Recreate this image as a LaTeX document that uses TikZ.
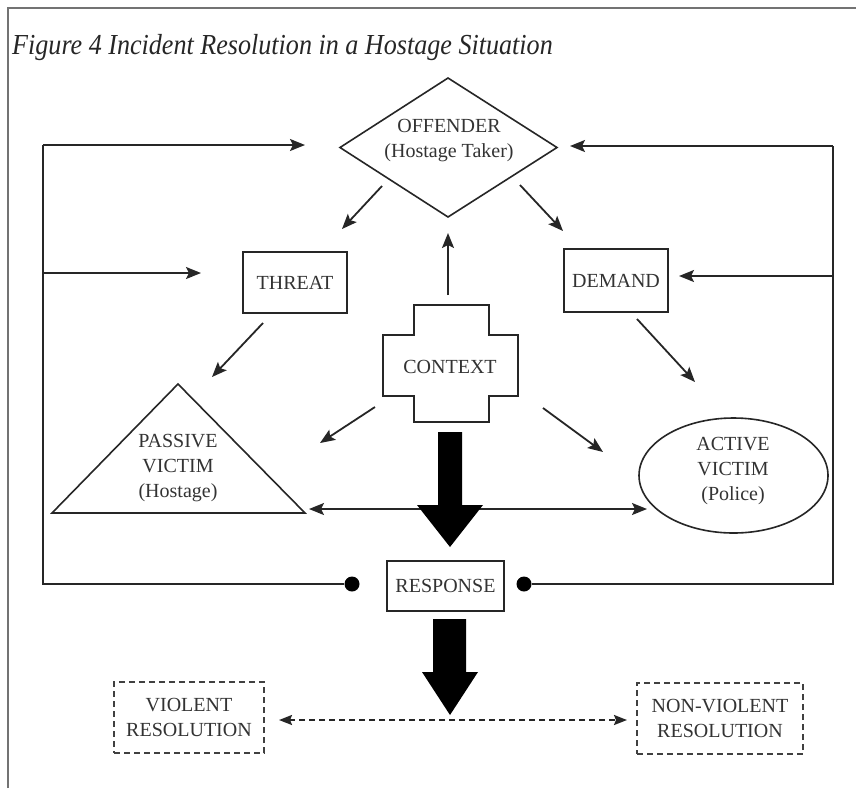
\documentclass[tikz,border=0pt]{standalone}
\usepackage{fontspec}
\setmainfont{Liberation Serif}
\newfontfamily\titlefont[FakeStretch=0.9]{Liberation Serif}
\usetikzlibrary{arrows.meta}
\begin{document}
\begin{tikzpicture}[x=1pt,y=-1pt,
  lbl/.style={font=\fontsize{20}{25}\selectfont, align=center, inner sep=0pt, text=black!80},
  shapeline/.style={line width=1.6pt, draw=black!85},
  box/.style={shapeline, rectangle, font=\fontsize{20}{25}\selectfont, align=center, inner sep=0pt, text=black!80},
  dbox/.style={box, dash pattern=on 6pt off 4pt, line width=2.2pt, draw=black!75},
  link/.style={line width=1.8pt, draw=black!85},
  tip/.tip={Stealth[length=15pt,width=12pt,inset=3pt]},
  arr/.style={link, -tip},
  darr/.style={link, tip-tip},
  dasharr/.style={link, dash pattern=on 6pt off 4pt, line width=2pt, {Stealth[length=13pt,width=10pt,inset=2pt]}-{Stealth[length=13pt,width=10pt,inset=2pt]}},
  dotnode/.style={circle, fill=black, inner sep=0pt, minimum size=15pt},
  bigarrow/.style={fill=black, draw=none},
  frameline/.style={line width=2.5pt, draw=black!55}]
\useasboundingbox[fill=white] (0,0) rectangle (856,788);
% frame
\draw[frameline] (8,788) -- (8,8) -- (856,8);
% title
\node[anchor=base west, inner sep=0pt, font=\titlefont\itshape\fontsize{29}{33}\selectfont, text=black!85] (title) at (12,54) {Figure 4 Incident Resolution in a Hostage Situation};
% offender diamond
\draw[shapeline] (448,78) -- (557,147.5) -- (448,217) -- (340,147.5) -- cycle;
\node[lbl] (off) at (449,141) {OFFENDER\\(Hostage Taker)};
% threat / demand
\node[box, minimum width=104pt, minimum height=61pt] (threat) at (295,282.5) {THREAT};
\node[box, minimum width=104pt, minimum height=63pt] (demand) at (616,280.5) {DEMAND};
% context cross
\draw[shapeline] (414,305) -- (489,305) -- (489,335) -- (518,335) -- (518,396) -- (489,396) -- (489,422) -- (414,422) -- (414,396) -- (383,396) -- (383,335) -- (414,335) -- cycle;
\node[lbl] (context) at (450,367) {CONTEXT};
% passive victim triangle
\draw[shapeline] (178,384) -- (305,513) -- (52,513) -- cycle;
\node[lbl] (passive) at (178,468) {PASSIVE\\VICTIM\\(Hostage)};
% active victim ellipse
\draw[shapeline] (733.5,475.5) ellipse [x radius=94.5, y radius=57.5];
\node[lbl] (active) at (733,470.5) {ACTIVE\\VICTIM\\(Police)};
% response
\node[box, minimum width=117pt, minimum height=50pt] (response) at (445.5,586) {RESPONSE};
% resolutions
\node[dbox, minimum width=150pt, minimum height=71pt] (violent) at (189,717.5) {VIOLENT\\RESOLUTION};
\node[dbox, minimum width=166pt, minimum height=71pt] (nonviolent) at (720,718.5) {NON-VIOLENT\\RESOLUTION};
% connector end coordinates
\coordinate (offL) at (382,186);
\coordinate (offR) at (520,185);
\coordinate (threatIn) at (342,229);
\coordinate (demandIn) at (563,231);
\coordinate (ctxTop) at (448,295);
\coordinate (offIn) at (448,233);
\coordinate (threatOut) at (263,323);
\coordinate (passiveIn) at (212,377);
\coordinate (demandOut) at (637,319);
\coordinate (activeIn) at (695,382);
\coordinate (ctxL) at (375,407);
\coordinate (ctxLtip) at (320,443);
\coordinate (ctxR) at (543,408);
\coordinate (ctxRtip) at (603,452);
\coordinate (passiveR) at (309,509);
\coordinate (activeL) at (647,509);
\coordinate (violentR) at (279,720);
\coordinate (nonviolentL) at (627,720);
% feedback loop coordinates
\coordinate (lt) at (43,145);
\coordinate (lm) at (43,273);
\coordinate (lb) at (43,584);
\coordinate (ltip1) at (305,145);
\coordinate (ltip2) at (201,273);
\coordinate (rt) at (833,146);
\coordinate (rm) at (833,276);
\coordinate (rb) at (833,584);
\coordinate (rtip1) at (570,146);
\coordinate (rtip2) at (679,276);
\node[dotnode] (dotl) at (352,584) {};
\node[dotnode] (dotr) at (524,584) {};
% arrows
\draw[arr] (offL) -- (threatIn);
\draw[arr] (offR) -- (demandIn);
\draw[arr] (ctxTop) -- (offIn);
\draw[arr] (threatOut) -- (passiveIn);
\draw[arr] (demandOut) -- (activeIn);
\draw[arr] (ctxL) -- (ctxLtip);
\draw[arr] (ctxR) -- (ctxRtip);
\draw[darr] (passiveR) -- (activeL);
\draw[dasharr] (violentR) -- (nonviolentL);
% feedback loops
\draw[link] (dotl) -- (lb) -- (lt);
\draw[arr] (lt) -- (ltip1);
\draw[arr] (lm) -- (ltip2);
\draw[link] (dotr) -- (rb) -- (rt);
\draw[arr] (rt) -- (rtip1);
\draw[arr] (rm) -- (rtip2);
% big arrows
\fill[bigarrow] (438,432) -- (462,432) -- (462,505) -- (483,505) -- (450,547) -- (417,505) -- (438,505) -- cycle;
\fill[bigarrow] (433,619) -- (466,619) -- (466,672) -- (478,672) -- (450,715) -- (422,672) -- (433,672) -- cycle;
\end{tikzpicture}
\end{document}
